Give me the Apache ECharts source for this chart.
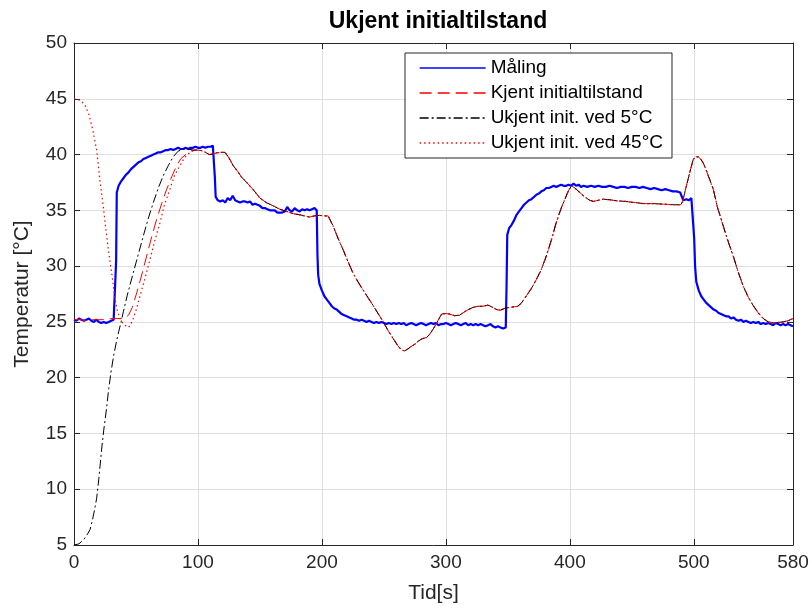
<!DOCTYPE html>
<html>
<head>
<meta charset="utf-8">
<script src="https://cdn.jsdelivr.net/npm/echarts@6/dist/echarts.min.js"></script>
<style>
  html, body { margin: 0; padding: 0; background: #fff; }
  #chart { width: 812px; height: 609px; }
</style>
</head>
<body>
<div id="chart"></div>
<script>
// Measured temperature [time s, temperature °C]
const measured = [
  [0,25.2],[2,25.1],[4,25.3],[6,25.2],[8,25.1],[10,25.2],[12,25.3],[14,25.1],[16,25.0],[18,25.2],
  [20,25.0],[22,24.9],[24,25.0],[26,24.9],[28,25.0],[30,25.1],[32,25.2],[33.5,25.3],[34,30.5],[34.5,36.6],
  [36,37.2],[38,37.6],[40,37.9],[42,38.2],[44,38.4],[46,38.7],[48,38.9],[50,39.1],[52,39.3],[54,39.4],
  [56,39.6],[58,39.7],[60,39.8],[62,39.9],[64,40.0],[66,40.1],[68,40.2],[70,40.2],[72,40.3],[74,40.4],
  [76,40.4],[78,40.5],[80,40.4],[82,40.5],[84,40.6],[86,40.5],[88,40.5],[90,40.6],[92,40.5],[94,40.6],
  [96,40.6],[98,40.7],[100,40.6],[102,40.6],[104,40.7],[106,40.6],[108,40.7],[110,40.7],[112,40.8],[113,40.8],
  [113.6,38.0],[114.3,36.2],[116,35.9],[118,35.8],[120,35.9],[122,35.7],[124,36.1],[126,35.9],[128,36.3],[130,35.9],
  [132,35.8],[134,35.7],[136,35.8],[138,35.8],[140,35.7],[142,35.8],[144,35.5],[146,35.6],[148,35.5],[150,35.4],
  [152,35.2],[154,35.2],[156,35.1],[158,35.0],[160,35.0],[162,35.0],[164,34.8],[166,34.8],[168,34.8],[170,34.9],
  [172,35.3],[174,35.0],[176,34.9],[178,35.2],[180,35.0],[182,34.9],[184,35.1],[186,35.0],[188,35.1],[190,35.0],
  [192,35.1],[194,35.2],[195.8,35.0],[196.4,31.0],[197,29.2],[198,28.4],[200,27.8],[202,27.3],[204,27.0],[206,26.7],
  [208,26.4],[210,26.2],[212,26.1],[214,25.9],[216,25.7],[218,25.6],[220,25.5],[222,25.4],[224,25.3],[226,25.2],
  [228,25.2],[230,25.1],[232,25.2],[234,25.1],[236,25.0],[238,25.1],[240,25.0],[242,24.9],[244,25.0],[246,24.9],
  [248,25.0],[250,24.9],[252,24.8],[254,24.9],[256,24.8],[258,24.9],[260,24.8],[262,24.9],[264,24.8],[266,24.9],
  [268,24.7],[270,24.8],[272,24.9],[274,24.8],[276,24.7],[278,24.8],[280,24.9],[282,24.8],[284,24.7],[286,24.8],
  [288,24.9],[290,24.8],[292,24.9],[294,24.7],[296,24.8],[298,24.8],[300,24.9],[302,24.8],[304,24.7],[306,24.8],
  [308,24.9],[310,24.8],[312,24.7],[314,24.8],[316,24.9],[318,24.7],[320,24.8],[322,24.7],[324,24.8],[326,24.7],
  [328,24.8],[330,24.7],[332,24.6],[334,24.7],[336,24.8],[338,24.6],[340,24.5],[342,24.6],[344,24.5],[346,24.4],
  [348.3,24.5],[348.9,28.0],[349.5,32.8],[351,33.4],[353,33.7],[355,34.1],[357,34.6],[359,34.9],[361,35.2],[363,35.5],
  [365,35.7],[367,35.9],[369,36.0],[371,36.2],[373,36.4],[375,36.5],[377,36.7],[379,36.8],[381,37.0],[383,37.0],
  [385,37.1],[387,37.2],[389,37.1],[391,37.2],[393,37.3],[395,37.2],[397,37.2],[399,37.3],[401,37.2],[403,37.4],
  [405,37.2],[407,37.3],[409,37.1],[411,37.2],[414,37.1],[417,37.2],[420,37.1],[423,37.2],[426,37.1],[429,37.1],
  [432,37.2],[435,37.1],[438,37.0],[441,37.1],[444,37.1],[447,37.0],[450,37.1],[453,37.1],[456,37.0],[459,37.1],
  [462,37.0],[465,36.9],[468,37.0],[471,36.9],[474,36.8],[477,36.9],[480,36.8],[483,36.7],[486,36.7],[489,36.6],
  [490.5,36.6],[491.5,35.9],[494,36.0],[496,35.9],[498,36.1],[499.6,36.1],[500.3,32.5],[501,30.0],[502,28.6],[504,27.8],
  [506,27.3],[508,27.0],[510,26.7],[512,26.5],[514,26.3],[516,26.1],[518,26.0],[520,25.8],[522,25.7],[524,25.6],
  [526,25.5],[528,25.5],[530,25.3],[532,25.4],[534,25.2],[536,25.1],[538,25.2],[540,25.0],[542,25.1],[544,25.0],
  [546,24.9],[548,25.0],[550,24.9],[552,25.0],[554,24.8],[556,24.9],[558,24.8],[560,24.9],[562,24.8],[564,24.7],
  [566,24.9],[568,24.8],[570,24.7],[572,24.8],[574,24.7],[576,24.8],[578,24.7],[580,24.6]
];

// Simulation with known initial state, first 100 s
const knownHead = [
  [0,25.2],[5,25.2],[10,25.1],[15,25.2],[20,25.2],[25,25.2],[30,25.3],[35,25.3],[38,25.3],[41,25.35],
  [44,25.6],[47,26.3],[50.6,27.6],[54.6,29.2],[58.6,30.9],[62.6,32.6],[66.7,34.2],[70.7,35.6],[74.8,36.9],[78.8,38.0],
  [82.8,39.0],[86,39.6],[90,40.0],[93.6,40.3],[97,40.4],[100,40.4]
];

// Simulation started at 5 °C, first 100 s
const coldHead = [
  [0,5.0],[4,5.1],[8,5.5],[11,6.0],[13,6.4],[15,7.3],[17,8.4],[18.3,9.2],[20,10.9],[22.3,13.6],
  [24,15.3],[26.3,17.3],[28,19.0],[30,20.6],[32,22.0],[34,23.1],[36,24.1],[38,25.0],[39.8,25.9],[43,27.4],
  [47.8,29.4],[52,31.1],[55.9,32.7],[60,34.3],[64,35.7],[68,37.0],[72,38.1],[76,39.0],[80,39.8],[84,40.3],
  [88,40.5],[92,40.5],[96,40.4],[100,40.4]
];

// Simulation started at 45 °C, first 100 s
const warmHead = [
  [0,45.0],[3,44.95],[6,44.8],[9,44.4],[12,43.6],[15,42.3],[18.3,40.4],[21,37.6],[23.6,35.4],[25.5,33.5],
  [27.7,31.5],[30.4,29.4],[33.1,27.05],[35,26.0],[37.1,25.3],[40,24.8],[43.8,24.5],[45.5,24.7],[47.8,25.3],[50.5,26.2],
  [53.2,27.3],[57,28.8],[61.3,30.6],[65,32.2],[69.4,33.9],[73,35.5],[77.4,36.9],[81,38.1],[85.5,39.0],[89,39.7],
  [93.6,40.2],[97,40.4],[100,40.4]
];

// After ~100 s all three simulations follow the same trajectory
const simTail = [
  [103,40.35],[106,40.2],[109,40.0],[112,40.05],[115,40.15],[118,40.2],[121.8,40.2],[125,39.7],[128.5,39.0],[132,38.5],
  [135,38.0],[139.3,37.5],[145,36.8],[150,36.1],[155,35.7],[160.8,35.4],[166,35.1],[171.5,34.9],[177,34.7],[182.3,34.6],
  [186,34.5],[190,34.4],[194,34.5],[198,34.55],[202,34.5],[205,34.5],[209,33.6],[213,32.5],[217,31.5],[221,30.4],
  [225,29.4],[229,28.6],[233,27.9],[237,27.2],[241.4,26.45],[245,25.8],[249.5,25.0],[253.5,24.2],[257.5,23.5],[261,22.9],
  [264,22.5],[266.5,22.4],[269,22.55],[272,22.8],[275,23.0],[278,23.3],[281,23.5],[284.4,23.6],[287,23.9],[290,24.4],
  [293,25.0],[296.5,25.7],[300,25.75],[303,25.7],[307,25.55],[311,25.6],[315,25.9],[318,26.1],[322,26.3],[326,26.4],
  [330,26.4],[334,26.5],[338,26.3],[341,26.1],[344,26.05],[347,26.2],[351,26.3],[355,26.35],[358,26.4],[361,26.7],
  [365,27.35],[369,28.0],[373,28.8],[377,29.7],[381,30.9],[385,32.3],[389,33.9],[393,35.2],[396,36.0],[399,36.8],
  [401.5,37.2],[404,37.0],[408,36.6],[412,36.2],[416,35.9],[419,35.8],[423,35.9],[427,36.0],[432,35.95],[438,35.85],
  [445,35.8],[452,35.7],[460,35.6],[468,35.6],[476,35.55],[484,35.5],[489.5,35.5],[491,35.8],[492.5,36.5],[494,37.2],
  [496.5,38.3],[499.5,39.55],[501.5,39.8],[503.6,39.8],[505.5,39.6],[507.6,39.25],[510,38.6],[513,37.7],[515.7,36.9],[519,35.3],
  [523.7,33.6],[528,32.1],[531.8,30.9],[536,29.4],[539.9,28.2],[544,27.2],[548,26.45],[552,25.8],[556,25.3],[560,25.0],
  [564,24.9],[568,24.95],[572,25.0],[576,25.1],[580,25.3]
];

const seriesNames = ['Måling', 'Kjent initialtilstand', 'Ukjent init. ved 5°C', 'Ukjent init. ved 45°C'];
const xTicks = { min: 0, max: 580, step: 100 };
const yTicks = { min: 5, max: 50, step: 5 };

const FONT = "'Liberation Sans', Arial, Helvetica, sans-serif";
const AXIS_COLOR = '#262626';

const chart = echarts.init(document.getElementById('chart'), null, { renderer: 'canvas' });

// Plain axis used to close the box on the top and right sides
function boxAxis(extra) {
  return Object.assign({
    type: 'value',
    axisLine: { show: true, onZero: false, lineStyle: { color: AXIS_COLOR, width: 1 } },
    axisTick: { show: true, inside: true, length: 6, lineStyle: { color: AXIS_COLOR } },
    axisLabel: { show: false },
    splitLine: { show: false }
  }, extra);
}

const option = {
  animation: false,
  backgroundColor: '#fff',
  title: {
    text: 'Ukjent initialtilstand',
    left: 433,
    textAlign: 'center',
    top: 5,
    textStyle: { fontFamily: FONT, fontSize: 23, fontWeight: 'bold', color: '#000' }
  },
  grid: { left: 74, right: 19, top: 43, bottom: 62, containLabel: false },
  legend: {
    data: seriesNames,
    orient: 'vertical',
    left: 405,
    top: 53,
    padding: [5, 9, 5, 14],
    itemGap: 5,
    itemWidth: 66,
    itemHeight: 20,
    backgroundColor: '#fff',
    borderColor: AXIS_COLOR,
    borderWidth: 1,
    borderRadius: 0,
    itemStyle: { opacity: 0, borderWidth: 0 },
    lineStyle: { width: 1.3 },
    textStyle: { fontFamily: FONT, fontSize: 19, color: '#000', lineHeight: 20 }
  },
  xAxis: [
    {
      type: 'value',
      min: xTicks.min, max: xTicks.max, interval: xTicks.step,
      name: 'Tid[s]',
      nameLocation: 'middle',
      nameGap: 38,
      nameTextStyle: { fontFamily: FONT, fontSize: 21, color: AXIS_COLOR },
      axisLine: { show: true, onZero: false, lineStyle: { color: AXIS_COLOR, width: 1 } },
      axisTick: { show: true, inside: true, length: 6, lineStyle: { color: AXIS_COLOR } },
      axisLabel: { fontFamily: FONT, fontSize: 19, color: AXIS_COLOR, margin: 8, showMaxLabel: true },
      splitLine: { show: true, lineStyle: { color: '#dfdfdf', width: 1 } }
    },
    boxAxis({ position: 'top', min: xTicks.min, max: xTicks.max, interval: xTicks.step })
  ],
  yAxis: [
    {
      type: 'value',
      min: yTicks.min, max: yTicks.max, interval: yTicks.step,
      name: 'Temperatur [°C]',
      nameLocation: 'middle',
      nameGap: 41,
      nameTextStyle: { fontFamily: FONT, fontSize: 21, color: AXIS_COLOR },
      axisLine: { show: true, onZero: false, lineStyle: { color: AXIS_COLOR, width: 1 } },
      axisTick: { show: true, inside: true, length: 6, lineStyle: { color: AXIS_COLOR } },
      axisLabel: { fontFamily: FONT, fontSize: 19, color: AXIS_COLOR, margin: 7 },
      splitLine: { show: true, lineStyle: { color: '#dfdfdf', width: 1 } }
    },
    boxAxis({ position: 'right', min: yTicks.min, max: yTicks.max, interval: yTicks.step })
  ],
  series: [
    {
      name: seriesNames[0], type: 'line', data: measured,
      symbol: 'none', clip: true,
      lineStyle: { color: '#0000ff', width: 2.2 },
      itemStyle: { color: '#0000ff' }
    },
    {
      name: seriesNames[1], type: 'line', data: knownHead.concat(simTail),
      symbol: 'none', clip: true,
      lineStyle: { color: '#ff0000', width: 1, type: [12, 6] },
      itemStyle: { color: '#ff0000' }
    },
    {
      name: seriesNames[2], type: 'line', data: coldHead.concat(simTail),
      symbol: 'none', clip: true,
      lineStyle: { color: '#000000', width: 1, type: [9, 3, 2, 3] },
      itemStyle: { color: '#000000' }
    },
    {
      name: seriesNames[3], type: 'line', data: warmHead.concat(simTail),
      symbol: 'none', clip: true,
      lineStyle: { color: '#ff0000', width: 1.2, type: [1.5, 3] },
      itemStyle: { color: '#ff0000' }
    }
  ]
};

chart.setOption(option);
</script>
</body>
</html>
